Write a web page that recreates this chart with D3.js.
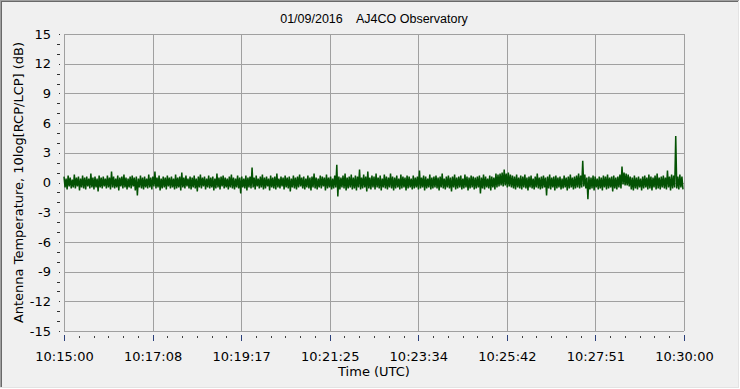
<!DOCTYPE html>
<html>
<head>
<meta charset="utf-8">
<script src="https://cdn.jsdelivr.net/npm/d3@7"></script>
<style>
  html, body { margin: 0; padding: 0; background: #f0f0f0; }
  svg { display: block; }
</style>
</head>
<body>
<svg id="chart" width="740" height="389"></svg>
<script>
// ---- data ----
const chartTitle = "01/09/2016    AJ4CO Observatory";
const xTitle = "Time (UTC)";
const yTitle = "Antenna Temperature, 10log[RCP/LCP] (dB)";
const spanSeconds = 900;          // 10:15:00 .. 10:30:00
const sampleStep = 1.5;           // seconds between samples
const xTickLabels = ["10:15:00","10:17:08","10:19:17","10:21:25","10:23:34","10:25:42","10:27:51","10:30:00"];
const yTickLabels = [-15,-12,-9,-6,-3,0,3,6,9,12,15];
const yDomain = [-15, 15];
// RCP/LCP ratio in dB, one value per sample
const samples = [
 0.6,-0.5,0.4,-0.7,0.7,-0.4,0.5,-0.6,0.3,-0.5,0.8,-0.6,0.5,-0.4,0.6,-0.8,0.4,-0.5,0.7,-0.6,
 0.5,-0.7,0.6,-0.4,0.4,-0.6,0.9,-0.5,0.5,-0.7,0.6,-0.5,0.4,-0.9,0.7,-0.5,0.5,-0.6,0.6,-0.4,
 0.4,-0.6,0.7,-0.5,0.5,-0.7,1.1,-0.5,0.6,-0.6,0.4,-0.5,0.7,-0.8,0.5,-0.4,0.6,-0.6,0.8,-0.5,
 0.5,-0.7,0.4,-0.5,0.6,-0.6,0.7,-0.4,0.5,-0.8,0.6,-1.3,0.4,-0.5,0.7,-0.6,0.5,-0.7,0.6,-0.5,
 0.4,-0.6,0.8,-0.5,0.5,-0.7,0.6,-0.4,1.1,-0.6,0.5,-0.5,0.7,-0.8,0.4,-0.6,0.6,-0.5,0.5,-0.7,
 0.7,-0.4,0.5,-0.6,0.6,-0.5,0.4,-0.7,0.8,-0.6,0.5,-0.5,0.6,-0.8,1.0,-0.5,0.5,-0.6,0.7,-0.4,
 0.4,-0.6,0.6,-0.7,0.5,-0.5,0.7,-0.6,0.4,-0.9,0.6,-0.5,0.8,-0.6,0.5,-0.4,0.6,-0.7,0.4,-0.5,
 0.7,-0.6,0.5,-0.5,0.6,-0.8,0.4,-0.6,0.9,-0.5,0.5,-0.7,0.6,-0.4,0.7,-0.6,0.5,-0.5,0.4,-0.7,
 0.6,-0.5,0.8,-0.6,0.5,-0.7,0.4,-0.5,0.7,-0.6,0.5,-1.1,0.6,-0.5,0.4,-0.6,0.7,-0.8,0.5,-0.5,
 0.6,-0.6,1.5,-0.5,0.5,-0.7,0.7,-0.4,0.4,-0.6,0.6,-0.5,0.8,-0.7,0.5,-0.6,0.6,-0.4,0.4,-0.8,
 0.7,-0.5,0.5,-0.6,0.6,-0.7,0.9,-0.5,0.4,-0.6,0.6,-0.4,0.5,-0.7,0.7,-0.5,0.5,-0.6,0.6,-0.9,
 0.4,-0.5,0.7,-0.6,0.5,-0.7,0.6,-0.5,0.8,-0.4,0.5,-0.6,0.6,-0.7,0.4,-0.5,0.7,-0.6,0.5,-0.8,
 0.6,-0.5,0.9,-0.6,0.5,-0.7,0.4,-0.5,0.7,-0.6,0.6,-0.4,0.5,-0.8,0.8,-0.6,0.5,-0.5,0.6,-0.7,
 0.4,-0.6,0.7,-0.5,1.8,-1.4,0.6,-0.7,0.5,-0.5,0.7,-0.6,0.9,-0.8,0.5,-0.6,0.6,-0.5,0.8,-0.7,
 0.5,-0.6,0.7,-0.8,0.6,-0.5,1.3,-0.7,0.5,-0.6,0.8,-0.5,0.6,-0.9,1.1,-0.6,0.5,-0.7,0.7,-0.5,
 0.6,-0.7,0.9,-0.5,0.5,-0.6,0.7,-0.8,0.4,-0.5,0.8,-0.6,0.6,-0.7,0.5,-0.5,0.9,-0.6,0.6,-0.8,
 0.5,-0.6,0.7,-0.5,0.4,-0.7,0.8,-0.6,0.6,-0.5,0.5,-0.8,0.7,-0.6,0.6,-0.5,0.4,-0.7,0.7,-0.6,
 0.5,-0.5,0.6,-0.7,1.2,-0.6,0.5,-0.5,0.7,-0.8,0.6,-0.6,0.4,-0.5,0.8,-0.7,0.5,-0.6,0.6,-0.5,
 0.7,-0.6,0.5,-0.8,0.6,-0.5,0.9,-0.6,0.4,-0.7,0.6,-0.5,0.7,-0.6,0.5,-0.9,0.6,-0.5,0.8,-0.7,
 0.5,-0.6,0.6,-0.5,0.7,-0.7,0.4,-0.6,0.8,-0.5,0.6,-0.8,0.5,-0.6,0.7,-0.5,0.6,-0.7,0.5,-0.6,
 0.6,-0.5,0.7,-1.1,0.5,-0.6,0.8,-0.7,0.6,-0.5,0.4,-0.6,0.7,-0.8,0.6,-0.5,0.5,-0.7,0.9,-0.5,
 0.8,-0.4,0.9,-0.3,1.0,-0.4,1.3,-0.3,0.9,-0.5,1.0,-0.4,0.8,-0.5,0.7,-0.6,0.6,-0.7,0.8,-0.5,
 0.5,-0.6,0.7,-0.7,0.6,-0.5,0.8,-0.6,0.5,-0.8,0.6,-0.5,0.7,-0.6,0.4,-0.7,0.6,-0.5,0.9,-0.6,
 0.5,-0.7,0.6,-0.6,0.7,-0.5,0.5,-1.3,0.6,-0.6,0.8,-0.7,0.5,-0.5,0.6,-0.8,0.7,-0.6,0.5,-0.5,
 0.6,-0.7,0.4,-0.6,0.7,-0.5,0.5,-0.8,0.6,-0.6,0.8,-0.5,0.5,-0.7,0.6,-0.6,0.7,-0.5,0.9,-0.6,
 0.7,-0.5,2.2,-0.4,0.8,-0.6,0.5,-1.7,0.6,-0.7,0.5,-0.6,0.7,-0.8,0.6,-0.5,0.4,-0.7,0.6,-0.6,
 0.5,-0.8,0.7,-0.5,0.6,-0.7,0.8,-0.6,0.5,-0.5,0.6,-0.9,0.7,-0.6,0.5,-0.7,0.6,-0.5,0.8,-0.6,
 1.6,-0.2,1.0,-0.3,0.9,-0.3,0.8,-0.4,0.6,-0.7,0.5,-0.8,0.7,-0.6,0.5,-0.7,0.6,-0.5,0.4,-0.8,
 0.6,-0.6,0.7,-0.5,0.5,-0.7,0.8,-0.6,0.6,-0.8,0.5,-0.5,0.7,-0.7,0.9,-0.6,0.5,-0.7,0.6,-0.5,
 0.7,-0.6,0.5,-0.7,1.2,-0.5,0.6,-0.8,0.8,-0.6,0.7,-0.5,4.7,-0.6,0.6,-0.7,0.8,-0.5,0.6,-0.7
];

// ---- layout ----
const W = 740, H = 389;
const plot = { left: 64, right: 684, top: 34, bottom: 331 };
const labelFont = "'DejaVu Sans', Verdana, sans-serif";

const svg = d3.select("#chart");

// background + sunken frame
svg.append("rect").attr("x", 0).attr("y", 0).attr("width", W).attr("height", H).attr("fill", "#f0f0f0");
svg.append("line").attr("x1", 0).attr("y1", 0.5).attr("x2", W).attr("y2", 0.5).attr("stroke", "#a0a0a0");
svg.append("line").attr("x1", 0).attr("y1", 1.5).attr("x2", W).attr("y2", 1.5).attr("stroke", "#696969");
svg.append("line").attr("x1", 0.5).attr("y1", 0).attr("x2", 0.5).attr("y2", H).attr("stroke", "#a0a0a0");
svg.append("line").attr("x1", 1.5).attr("y1", 1).attr("x2", 1.5).attr("y2", H).attr("stroke", "#696969");
svg.append("line").attr("x1", 0).attr("y1", H - 0.5).attr("x2", W).attr("y2", H - 0.5).attr("stroke", "#ffffff");
svg.append("line").attr("x1", 0).attr("y1", H - 1.5).attr("x2", W - 1).attr("y2", H - 1.5).attr("stroke", "#e3e3e3");
svg.append("line").attr("x1", W - 0.5).attr("y1", 0).attr("x2", W - 0.5).attr("y2", H).attr("stroke", "#ffffff");
svg.append("line").attr("x1", W - 1.5).attr("y1", 1).attr("x2", W - 1.5).attr("y2", H - 1).attr("stroke", "#e3e3e3");

// scales
const x = d3.scaleLinear().domain([0, spanSeconds]).range([plot.left, plot.right]);
const y = d3.scaleLinear().domain(yDomain).range([plot.bottom, plot.top]);

const nMajor = xTickLabels.length - 1;
const xMajor = xTickLabels.map((_, i) => i * spanSeconds / nMajor);
const xMinor = d3.range(0, nMajor * 6 + 1).map(i => i * spanSeconds / (nMajor * 6)).filter((_, i) => i % 6 !== 0);
const yMinor = d3.range(yDomain[0], yDomain[1] + 1).filter(v => v % 3 !== 0);

// grid
const grid = svg.append("g").attr("stroke", "#a0a0a0").attr("stroke-width", 1).attr("shape-rendering", "crispEdges");
grid.selectAll("line.h").data(yTickLabels).join("line")
  .attr("x1", plot.left).attr("x2", plot.right)
  .attr("y1", d => Math.round(y(d)) + 0.5).attr("y2", d => Math.round(y(d)) + 0.5);
grid.selectAll("line.v").data(xMajor).join("line")
  .attr("x1", d => Math.round(x(d)) + 0.5).attr("x2", d => Math.round(x(d)) + 0.5)
  .attr("y1", plot.top).attr("y2", plot.bottom);

// data line
const line = d3.line()
  .x((d, i) => x(i * sampleStep))
  .y(d => y(d));
svg.append("path")
  .datum(samples)
  .attr("d", line)
  .attr("fill", "none")
  .attr("stroke", "#035203")
  .attr("stroke-width", 1.5)
  .attr("stroke-linejoin", "bevel");

// y axis labels
const yAxis = d3.axisLeft(y).tickValues(yTickLabels).tickSize(0).tickPadding(13).tickFormat(d => String(d));
const gy = svg.append("g").attr("transform", `translate(${plot.left},0)`).call(yAxis);
gy.select(".domain").remove();
gy.selectAll("text").attr("font-family", labelFont).attr("font-size", 13).attr("fill", "#000");

// y major dot ticks
const yDots = d3.axisLeft(y).tickValues(yTickLabels).tickSize(1).tickFormat("");
const gyd = svg.append("g").attr("transform", `translate(59.5,0)`).call(yDots);
gyd.select(".domain").remove();
gyd.selectAll("line").attr("stroke", "#303030").attr("shape-rendering", "crispEdges");
// y minor ticks
const yMin = d3.axisLeft(y).tickValues(yMinor).tickSize(3).tickFormat("");
const gym = svg.append("g").attr("transform", `translate(59.5,0)`).call(yMin);
gym.select(".domain").remove();
gym.selectAll("line").attr("stroke", "#303030").attr("shape-rendering", "crispEdges");

// x axis major ticks + labels
const xAxis = d3.axisBottom(x).tickValues(xMajor).tickSize(6).tickPadding(11)
  .tickFormat((d, i) => xTickLabels[i]);
const gx = svg.append("g").attr("transform", `translate(0,${plot.bottom + 4})`).call(xAxis);
gx.select(".domain").remove();
gx.selectAll("line").attr("stroke", "#2a3f7a").attr("shape-rendering", "crispEdges");
gx.selectAll("text").attr("font-family", labelFont).attr("font-size", 13).attr("fill", "#000");
// x minor ticks
const xMin = d3.axisBottom(x).tickValues(xMinor).tickSize(2).tickFormat("");
const gxm = svg.append("g").attr("transform", `translate(0,${plot.bottom + 5})`).call(xMin);
gxm.select(".domain").remove();
gxm.selectAll("line").attr("stroke", "#404040").attr("shape-rendering", "crispEdges");

// titles
svg.append("text")
  .attr("x", (plot.left + plot.right) / 2 - 0)
  .attr("y", 23)
  .attr("text-anchor", "middle")
  .attr("font-family", "'Liberation Sans', Arial, sans-serif")
  .attr("font-size", 12.5)
  .style("white-space", "pre")
  .attr("fill", "#000")
  .text(chartTitle);

svg.append("text")
  .attr("x", (plot.left + plot.right) / 2)
  .attr("y", 376)
  .attr("text-anchor", "middle")
  .attr("font-family", labelFont)
  .attr("font-size", 13)
  .attr("fill", "#000")
  .text(xTitle);

svg.append("text")
  .attr("transform", `translate(23,${(plot.top + plot.bottom) / 2}) rotate(-90)`)
  .attr("text-anchor", "middle")
  .attr("font-family", labelFont)
  .attr("font-size", 13)
  .attr("fill", "#000")
  .text(yTitle);
</script>
</body>
</html>
